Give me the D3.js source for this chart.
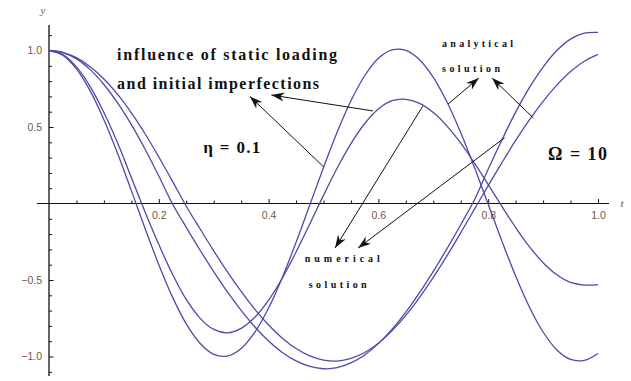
<!DOCTYPE html>
<html><head><meta charset="utf-8">
<script src="https://cdn.jsdelivr.net/npm/d3@7"></script>
<style>body{margin:0;background:#fff}svg{display:block}</style>
</head><body>
<svg id="c" width="631" height="381"></svg>
<script>
// ---- data ----
const tValues = [0,0.025,0.05,0.075,0.1,0.125,0.15,0.175,0.2,0.225,0.25,0.275,0.3,0.325,0.35,0.375,0.4,0.425,0.45,0.475,0.5,0.525,0.55,0.575,0.6,0.625,0.65,0.675,0.7,0.725,0.75,0.775,0.8,0.825,0.85,0.875,0.9,0.925,0.95,0.975,1.0];
const analyticalFast = [1,0.970,0.880,0.736,0.548,0.327,0.084,-0.163,-0.400,-0.612,-0.787,-0.913,-0.986,-0.997,-0.947,-0.840,-0.683,-0.483,-0.254,-0.010,0.235,0.467,0.671,0.835,0.949,1.004,1.001,0.940,0.825,0.663,0.462,0.236,-0.005,-0.246,-0.474,-0.676,-0.840,-0.957,-1.019,-1.025,-0.980];
const numericalFast = [1,0.973,0.893,0.764,0.595,0.395,0.170,-0.055,-0.268,-0.462,-0.627,-0.749,-0.823,-0.845,-0.816,-0.744,-0.632,-0.487,-0.317,-0.134,0.053,0.232,0.391,0.523,0.618,0.672,0.681,0.654,0.594,0.506,0.394,0.264,0.124,-0.019,-0.157,-0.282,-0.387,-0.466,-0.516,-0.533,-0.530];
const numericalSlow = [1,0.986,0.945,0.875,0.778,0.657,0.515,0.355,0.180,-0.003,-0.156,-0.304,-0.445,-0.578,-0.699,-0.807,-0.899,-0.974,-1.029,-1.065,-1.080,-1.073,-1.042,-0.990,-0.916,-0.822,-0.710,-0.583,-0.444,-0.295,-0.139,0.024,0.224,0.417,0.597,0.757,0.892,1.000,1.074,1.113,1.118];
const analyticalSlow = [1,0.988,0.953,0.894,0.814,0.713,0.593,0.456,0.304,0.145,-0.018,-0.165,-0.309,-0.447,-0.575,-0.692,-0.794,-0.880,-0.948,-0.996,-1.023,-1.030,-1.013,-0.974,-0.913,-0.831,-0.731,-0.613,-0.483,-0.341,-0.191,-0.037,0.117,0.267,0.412,0.546,0.668,0.774,0.862,0.930,0.975];
const xTickLabels = [0.2,0.4,0.6,0.8,1.0];
const xMinorTicks = [0.05,0.1,0.15,0.25,0.3,0.35,0.45,0.5,0.55,0.65,0.7,0.75,0.85,0.9,0.95];
const yTickLabels = [-1.0,-0.5,0.5,1.0];
const yMinorTicks = [-1.1,-0.9,-0.8,-0.7,-0.6,-0.4,-0.3,-0.2,-0.1,0.1,0.2,0.3,0.4,0.6,0.7,0.8,0.9,1.1];
// annotation arrows: [tStart, vStart, tTip, vTip]
const arrowInfluence = [[0.5,0.24,0.366,0.70],[0.59,0.605,0.405,0.709]];
const arrowNumerical = [[0.681,0.637,0.521,-0.291],[0.83,0.43,0.563,-0.291]];
const arrowAnalytical = [[0.727,0.65,0.783,0.82],[0.882,0.56,0.807,0.82]];

// ---- drawing ----
const svg = d3.select('#c');
const x = d3.scaleLinear().domain([0,1]).range([49,598]);
const y = d3.scaleLinear().domain([-1,1]).range([356.5,50.5]);
const ink = '#111';
const tickCol = '#6b5a45';

svg.append('defs').append('marker')
  .attr('id','ah').attr('viewBox','-13 -5 14 10').attr('refX',0).attr('refY',0)
  .attr('markerWidth',14).attr('markerHeight',10).attr('markerUnits','userSpaceOnUse')
  .attr('orient','auto')
  .append('path').attr('d','M0,0 L-13,-4.5 L-9,0 L-13,4.5 Z').attr('fill',ink);

// axis lines
const axLine = d3.line().x(d=>x(d[0])).y(d=>y(d[1]));
svg.append('path').attr('d',axLine([[-0.022,0],[1.02,0]])).attr('stroke',ink).attr('stroke-width',1.2).attr('fill','none');
svg.append('path').attr('d',axLine([[0,1.166],[0,-1.127]])).attr('stroke',ink).attr('stroke-width',1.3).attr('fill','none');

// x ticks (drawn upward), labels below
function styleTicks(g){ g.select('.domain').remove(); g.selectAll('line').attr('stroke',ink).attr('stroke-width',1); }
svg.append('g').attr('transform',`translate(0,${y(0)})`)
  .call(d3.axisTop(x).tickValues(xMinorTicks).tickSize(3).tickFormat('')).call(styleTicks);
svg.append('g').attr('transform',`translate(0,${y(0)})`)
  .call(d3.axisTop(x).tickValues(xTickLabels).tickSize(4.5).tickFormat('')).call(styleTicks);
const xl = svg.append('g').attr('transform',`translate(0,${y(0)})`)
  .call(d3.axisBottom(x).tickValues(xTickLabels).tickSize(0).tickPadding(8).tickFormat(d3.format('.1f')));
xl.select('.domain').remove();
xl.selectAll('text').attr('font-family','Liberation Sans, Arial, sans-serif').attr('font-size',10.5).attr('fill',tickCol);

// y ticks (to the right), labels left
svg.append('g').attr('transform',`translate(${x(0)},0)`)
  .call(d3.axisRight(y).tickValues(yMinorTicks).tickSize(3).tickFormat('')).call(styleTicks);
svg.append('g').attr('transform',`translate(${x(0)},0)`)
  .call(d3.axisRight(y).tickValues(yTickLabels).tickSize(4.5).tickFormat('')).call(styleTicks);
const yl = svg.append('g').attr('transform',`translate(${x(0)},0)`)
  .call(d3.axisLeft(y).tickValues(yTickLabels).tickSize(0).tickPadding(7).tickFormat(d=>d3.format('.1f')(d).replace('-','\u2212')));
yl.select('.domain').remove();
yl.selectAll('text').attr('font-family','Liberation Sans, Arial, sans-serif').attr('font-size',10.5).attr('fill',tickCol);

// axis names
svg.append('text').attr('x',x(-0.011)).attr('y',y(1.24)).text('y')
  .attr('font-family','Liberation Serif, serif').attr('font-style','italic').attr('font-size',11).attr('fill',tickCol).attr('text-anchor','middle');
svg.append('text').attr('x',x(1.044)).attr('y',y(-0.02)).text('t')
  .attr('font-family','Liberation Serif, serif').attr('font-style','italic').attr('font-size',11).attr('fill',tickCol).attr('text-anchor','middle');

// curves
const line = d3.line().x((d,i)=>x(tValues[i])).y(d=>y(d)).curve(d3.curveCatmullRom);
[analyticalFast,numericalFast,numericalSlow,analyticalSlow].forEach(s=>{
  svg.append('path').attr('d',line(s)).attr('fill','none').attr('stroke','#4b4ba8').attr('stroke-width',1.3);
});

// arrows
[...arrowInfluence,...arrowNumerical,...arrowAnalytical].forEach(a=>{
  svg.append('line').attr('x1',x(a[0])).attr('y1',y(a[1])).attr('x2',x(a[2])).attr('y2',y(a[3]))
    .attr('stroke',ink).attr('stroke-width',1).attr('marker-end','url(#ah)');
});

// annotation texts
function txt(s,tx,ty,size,len,weight){
  const t = svg.append('text').attr('x',x(tx)).attr('y',y(ty)).text(s)
    .attr('font-family','Liberation Serif, serif').attr('font-weight',weight||'bold')
    .attr('font-size',size).attr('fill',ink);
  if(len) t.attr('textLength',len).attr('lengthAdjust','spacing');
  return t;
}
txt('influence of static loading',0.124,0.935,16,220);
txt('and initial imperfections',0.124,0.748,16,202);
txt('\u03B7 = 0.1',0.281,0.33,17,57);
txt('\u03A9 = 10',0.909,0.285,18,59);
txt('analytical',0.716,1.02,10,71);
txt('solution',0.716,0.86,10,58);
txt('numerical',0.466,-0.385,10,75);
txt('solution',0.473,-0.555,10,58);
</script>
</body></html>
